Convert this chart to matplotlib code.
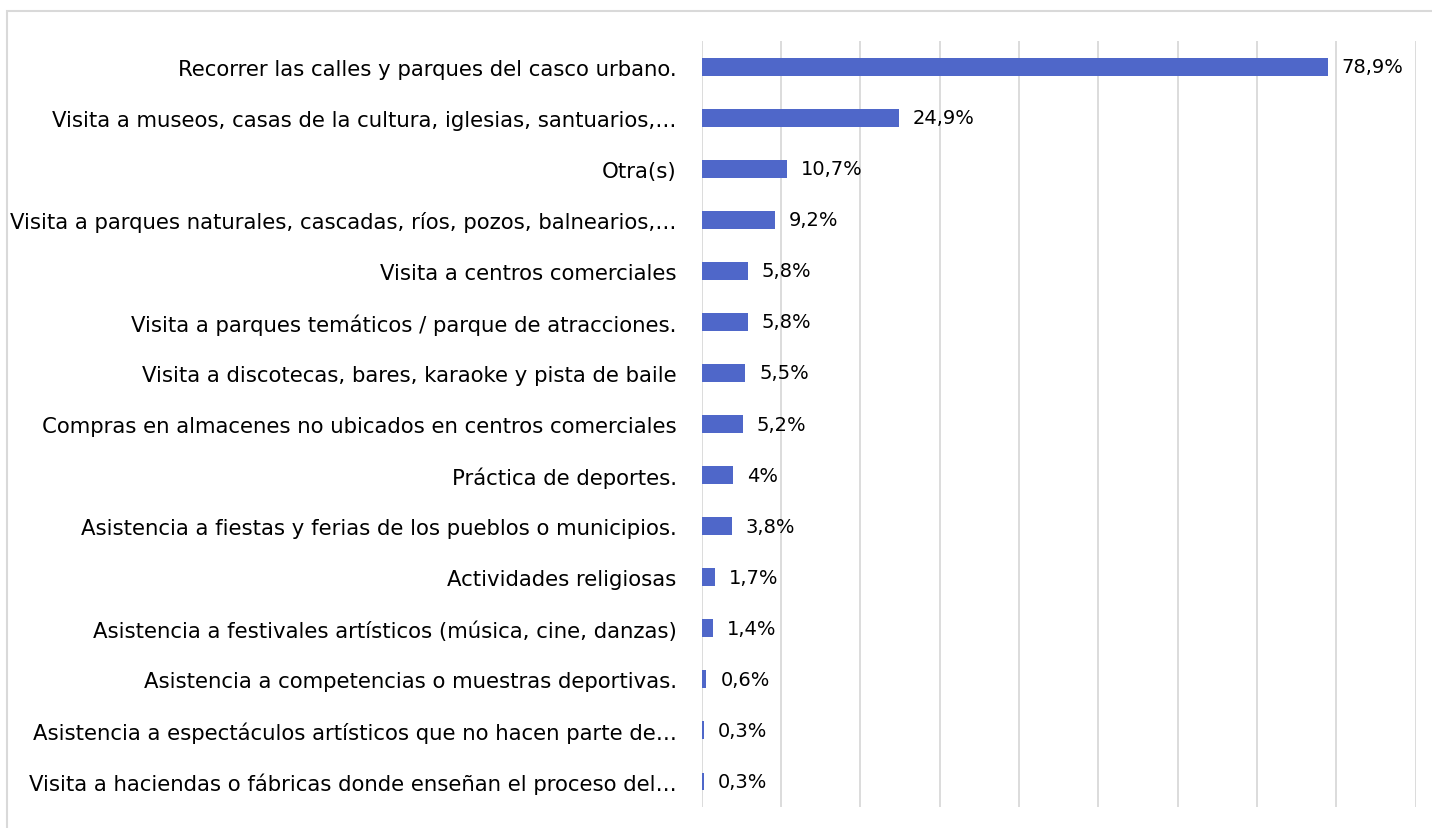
import matplotlib
matplotlib.use("Agg")
import matplotlib.pyplot as plt
from matplotlib.patches import Rectangle

plt.rcParams['font.family'] = ['DejaVu Sans']

categorias = [
    'Recorrer las calles y parques del casco urbano.',
    'Visita a museos, casas de la cultura, iglesias, santuarios,…',
    'Otra(s)',
    'Visita a parques naturales, cascadas, ríos, pozos, balnearios,…',
    'Visita a centros comerciales',
    'Visita a parques temáticos / parque de atracciones.',
    'Visita a discotecas, bares, karaoke y pista de baile',
    'Compras en almacenes no ubicados en centros comerciales',
    'Práctica de deportes.',
    'Asistencia a fiestas y ferias de los pueblos o municipios.',
    'Actividades religiosas',
    'Asistencia a festivales artísticos (música, cine, danzas)',
    'Asistencia a competencias o muestras deportivas.',
    'Asistencia a espectáculos artísticos que no hacen parte de…',
    'Visita a haciendas o fábricas donde enseñan el proceso del…',
]
valores = [78.9, 24.9, 10.7, 9.2, 5.8, 5.8, 5.5, 5.2, 4.0, 3.8, 1.7, 1.4, 0.6, 0.3, 0.3]
etiquetas = ['78,9%', '24,9%', '10,7%', '9,2%', '5,8%', '5,8%', '5,5%', '5,2%',
             '4%', '3,8%', '1,7%', '1,4%', '0,6%', '0,3%', '0,3%']

azul = '#4F67C9'
gris = '#D9D9D9'

fig = plt.figure(figsize=(14.32, 8.29), dpi=100)
# marco gris alrededor (se sale por la derecha y abajo)
fig.patches.append(Rectangle((7 / 1432, -0.1), 1.2, 1.1 - 12 / 829,
                             transform=fig.transFigure, fill=False,
                             edgecolor=gris, linewidth=1.5))
ax = fig.add_axes([0.4900, 0.0253, 0.4986, 0.9240])

y = list(range(len(categorias)))
ax.barh(y, valores, height=0.35, color=azul, zorder=3)
ax.set_ylim(len(categorias) - 0.5, -0.5)
ax.set_xlim(0, 90)
ax.set_xticks(range(0, 91, 10))
ax.set_xticklabels([])
ax.set_yticks(y)
ax.set_yticklabels(categorias, fontsize=15.3)
ax.tick_params(axis='y', length=0, pad=18)
ax.tick_params(axis='x', length=0)
ax.grid(axis='x', color=gris, linewidth=1.3, zorder=0)
for s in ax.spines.values():
    s.set_visible(False)

for i, (v, t) in enumerate(zip(valores, etiquetas)):
    ax.annotate(t, xy=(max(v, 0.3), i), xytext=(10, 0), textcoords='offset points',
                va='center', ha='left', fontsize=14)

fig.savefig('out.png', dpi=100)
